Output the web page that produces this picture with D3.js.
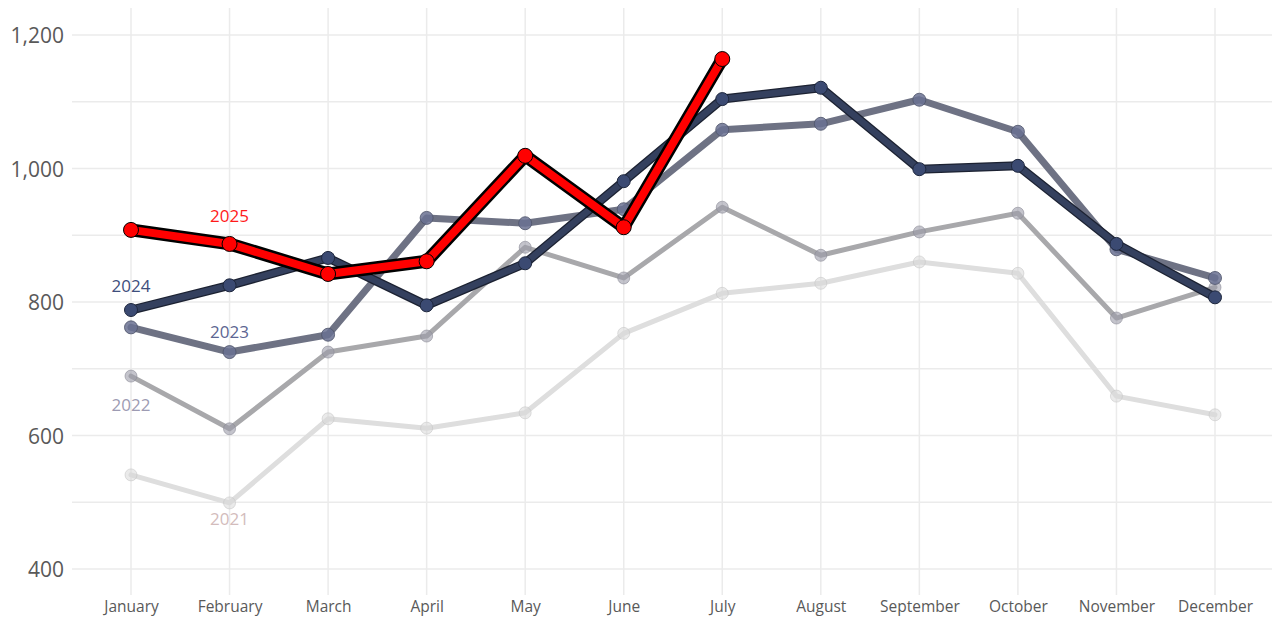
<!DOCTYPE html>
<html>
<head>
<meta charset="utf-8">
<script src="https://cdn.jsdelivr.net/npm/d3@7"></script>
<style>
  html, body { margin: 0; padding: 0; background: #fff; }
  svg { display: block; }
</style>
</head>
<body>
<svg id="chart" width="1275" height="617"></svg>
<script>
const months = ["January","February","March","April","May","June","July","August","September","October","November","December"];
const yTicks = [400, 600, 800, 1000, 1200];
const gridValues = [400, 500, 600, 700, 800, 900, 1000, 1100, 1200];

const v2021 = [541, 499, 625, 611, 634, 753, 813, 828, 860, 843, 659, 631];
const v2022 = [689, 610, 725, 749, 882, 836, 942, 870, 905, 933, 776, 822];
const v2023 = [762, 725, 751, 926, 918, 939, 1058, 1067, 1103, 1055, 879, 836];
const v2024 = [788, 825, 866, 795, 858, 981, 1104, 1121, 999, 1004, 887, 807];
const v2025 = [908, 887, 842, 861, 1019, 912, 1164];

const seriesNames = ["2021", "2022", "2023", "2024", "2025"];
const seriesValues = [v2021, v2022, v2023, v2024, v2025];

const styles = {
  "2021": { line: "#dedede", width: 5, outline: null, fill: "#d8d8d8", stroke: "#c4c4c4", r: 6, op: 0.55, text: "#d3bcbc", lx: 1, ly: 525 },
  "2022": { line: "#a8a8ab", width: 5, outline: null, fill: "#9c9caa", stroke: "#8a8a96", r: 6, op: 0.6, text: "#9d9bb3", lx: 0, ly: 411 },
  "2023": { line: "#6e7284", width: 7, outline: null, fill: "#6a7192", stroke: "#50566c", r: 6.5, op: 0.85, text: "#5c6592", lx: 1, ly: 338 },
  "2024": { line: "#34405e", width: 6.5, outline: "#1c2232", ow: 9, fill: "#3b4a72", stroke: "#1e273d", r: 6.5, op: 1, text: "#3e4e7c", lx: 0, ly: 292 },
  "2025": { line: "#ff0000", width: 8, outline: "#000000", ow: 13, fill: "#ff0000", stroke: "#000000", r: 7.5, op: 1, text: "#ff1a1a", lx: 1, ly: 222 }
};

const svg = d3.select("#chart");
const x = d3.scalePoint().domain(months).range([131, 1215]);
const y = d3.scaleLinear().domain([400, 1200]).range([569, 35]);

// grid
const grid = svg.append("g");
grid.selectAll("line.h").data(gridValues).enter().append("line")
  .attr("x1", 72).attr("x2", 1272)
  .attr("y1", d => y(d)).attr("y2", d => y(d))
  .attr("stroke", "#ebebeb").attr("stroke-width", 1.5);
grid.selectAll("line.v").data(months).enter().append("line")
  .attr("x1", d => x(d)).attr("x2", d => x(d))
  .attr("y1", 8).attr("y2", 595)
  .attr("stroke", "#ebebeb").attr("stroke-width", 1.5);

// y axis labels
const yAxis = d3.axisLeft(y).tickValues(yTicks).tickSize(0).tickPadding(0).tickFormat(d3.format(","));
const ya = svg.append("g").attr("transform", "translate(64,0)").call(yAxis);
ya.select(".domain").remove();
ya.selectAll("text")
  .attr("font-family", "'Open Sans', sans-serif")
  .attr("font-size", 21)
  .attr("fill", "#595959")
  .attr("dy", "0.36em");

// x axis labels
const xAxis = d3.axisBottom(x).tickSize(0).tickPadding(0);
const xa = svg.append("g").attr("transform", "translate(0,612)").call(xAxis);
xa.select(".domain").remove();
xa.selectAll("text")
  .attr("font-family", "'Open Sans', sans-serif")
  .attr("font-size", 15.5)
  .attr("fill", "#595959")
  .attr("dy", "0");

const line = d3.line().x((d, i) => x(months[i])).y(d => y(d));

seriesNames.forEach((name, si) => {
  const vals = seriesValues[si];
  const st = styles[name];
  const g = svg.append("g").attr("class", "s" + name);
  if (st.outline) {
    g.append("path").datum(vals).attr("d", line)
      .attr("fill", "none").attr("stroke", st.outline).attr("stroke-width", st.ow)
      .attr("stroke-linejoin", "round").attr("stroke-linecap", "round");
  }
  g.append("path").datum(vals).attr("d", line)
    .attr("fill", "none").attr("stroke", st.line).attr("stroke-width", st.width)
    .attr("stroke-linejoin", "round").attr("stroke-linecap", "round");
  g.selectAll("circle").data(vals).enter().append("circle")
    .attr("cx", (d, i) => x(months[i])).attr("cy", d => y(d))
    .attr("r", st.r)
    .attr("fill", st.fill).attr("fill-opacity", st.op)
    .attr("stroke", st.stroke).attr("stroke-width", 1).attr("stroke-opacity", st.op);
});

// series labels
seriesNames.forEach(name => {
  const st = styles[name];
  svg.append("text")
    .attr("x", x(months[st.lx])).attr("y", st.ly)
    .attr("text-anchor", "middle")
    .attr("font-family", "'Open Sans', sans-serif")
    .attr("font-size", 17)
    .attr("fill", st.text)
    .text(name);
});
</script>
</body>
</html>
